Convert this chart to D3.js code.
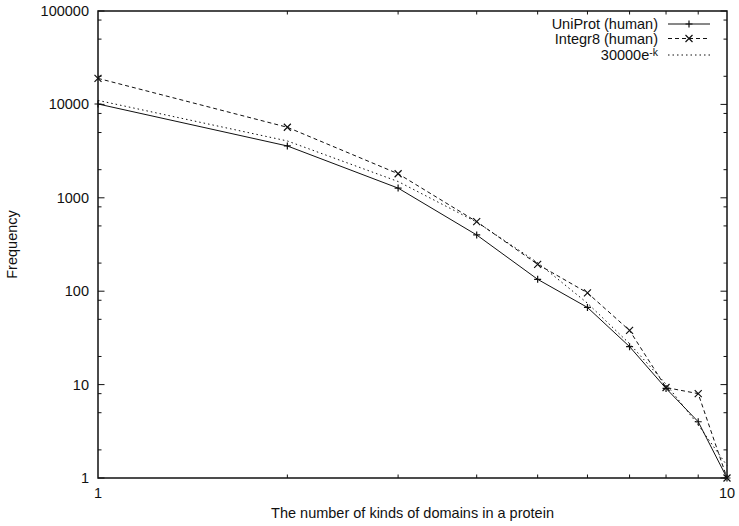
<!DOCTYPE html>
<html>
<head>
<meta charset="utf-8">
<script src="https://cdn.jsdelivr.net/npm/d3@7"></script>
<style>
  body { margin: 0; background: #fff; }
  svg text { font-family: "Liberation Sans", Arial, sans-serif; font-size: 14.5px; fill: #111; }
</style>
</head>
<body>
<div id="chart"></div>
<script>
// number of kinds of domains per protein (k)
const kinds = [1, 2, 3, 4, 5, 6, 7, 8, 9, 10];
// frequencies
const uniprotHuman = [10100, 3590, 1270, 400, 134, 67, 25.5, 9.1, 4, 1];
const integr8Human = [19000, 5690, 1810, 555, 194, 96, 38, 9.3, 8, 1];
const fitValues = [11036, 4060, 1494, 550, 202, 74.4, 27.4, 10.1, 3.7, 1.36];

const yTickValues = [1, 10, 100, 1000, 10000, 100000];
const xTickValues = [1, 10];

const width = 739, height = 526;
const margin = {top: 11, right: 12, bottom: 48, left: 98};
const w = width - margin.left - margin.right;
const h = height - margin.top - margin.bottom;

const svg = d3.select('#chart').append('svg')
    .attr('width', width)
    .attr('height', height);

const g = svg.append('g')
    .attr('transform', 'translate(' + margin.left + ',' + margin.top + ')');

const x = d3.scaleLog().domain([1, 10]).range([0, w]);
const y = d3.scaleLog().domain([1, 100000]).range([h, 0]);

// minor ticks: 2,5,8 per decade on y, 2..9 on x
const yMinor = [];
for (let d = 1; d < 100000; d *= 10) {
    [2, 5, 8].forEach(m => yMinor.push(d * m));
}
const xMinor = [2, 3, 4, 5, 6, 7, 8, 9];

const tickGroup = g.append('g').attr('stroke', '#111').attr('stroke-width', 1);
const major = 6.5, minor = 3.5;

yTickValues.forEach(v => {
    tickGroup.append('line').attr('x1', 0).attr('x2', major).attr('y1', y(v)).attr('y2', y(v));
    tickGroup.append('line').attr('x1', w).attr('x2', w - major).attr('y1', y(v)).attr('y2', y(v));
});
yMinor.forEach(v => {
    tickGroup.append('line').attr('x1', 0).attr('x2', minor).attr('y1', y(v)).attr('y2', y(v));
    tickGroup.append('line').attr('x1', w).attr('x2', w - minor).attr('y1', y(v)).attr('y2', y(v));
});
xMinor.forEach(v => {
    tickGroup.append('line').attr('x1', x(v)).attr('x2', x(v)).attr('y1', h).attr('y2', h - minor);
    tickGroup.append('line').attr('x1', x(v)).attr('x2', x(v)).attr('y1', 0).attr('y2', minor);
});

// tick labels
g.append('g').selectAll('text')
    .data(yTickValues)
    .join('text')
    .attr('x', -9)
    .attr('y', d => y(d))
    .attr('dy', '0.35em')
    .attr('text-anchor', 'end')
    .text(d => d);

g.append('g').selectAll('text')
    .data(xTickValues)
    .join('text')
    .attr('x', d => x(d))
    .attr('y', h + 20)
    .attr('text-anchor', 'middle')
    .text(d => d);

// frame
g.append('rect')
    .attr('width', w)
    .attr('height', h)
    .attr('fill', 'none')
    .attr('stroke', '#111')
    .attr('stroke-width', 1.5);

// axis titles
svg.append('text')
    .attr('x', margin.left + w / 2)
    .attr('y', 518)
    .attr('text-anchor', 'middle')
    .text('The number of kinds of domains in a protein');

svg.append('text')
    .attr('transform', 'translate(17,' + (margin.top + h / 2) + ') rotate(-90)')
    .attr('text-anchor', 'middle')
    .text('Frequency');

const line = d3.line()
    .x(d => x(d[0]))
    .y(d => y(d[1]));

const series = [
    {name: 'UniProt (human)', values: uniprotHuman, dash: null, marker: 'plus'},
    {name: 'Integr8 (human)', values: integr8Human, dash: '4,3', marker: 'cross'},
    {name: '30000e', values: fitValues, dash: '1.5,3', marker: null}
];

const plot = g.append('g');

function drawMarker(sel, type, cx, cy) {
    const s = 3.5;
    if (type === 'plus') {
        sel.append('path')
            .attr('d', `M${cx - s},${cy}H${cx + s}M${cx},${cy - s}V${cy + s}`)
            .attr('stroke', '#111').attr('stroke-width', 1.2);
    } else if (type === 'cross') {
        sel.append('path')
            .attr('d', `M${cx - s},${cy - s}L${cx + s},${cy + s}M${cx - s},${cy + s}L${cx + s},${cy - s}`)
            .attr('stroke', '#111').attr('stroke-width', 1.2);
    }
}

series.forEach(s => {
    const pts = kinds.map((k, i) => [k, s.values[i]]);
    plot.append('path')
        .datum(pts)
        .attr('d', line)
        .attr('fill', 'none')
        .attr('stroke', '#111')
        .attr('stroke-width', 1)
        .attr('stroke-dasharray', s.dash);
    if (s.marker) {
        pts.forEach(p => drawMarker(plot, s.marker, x(p[0]), y(p[1])));
    }
});

// legend
const legend = svg.append('g');
const legendRows = [24, 38.5, 55];
series.forEach((s, i) => {
    const ly = legendRows[i];
    const t = legend.append('text')
        .attr('x', 658)
        .attr('y', ly)
        .attr('dy', '0.35em')
        .attr('text-anchor', 'end');
    t.append('tspan').text(s.name);
    if (!s.marker) {
        t.append('tspan').attr('dy', '-0.4em').attr('font-size', '10.5px').text('-k');
    }
    legend.append('line')
        .attr('x1', 668).attr('x2', 710)
        .attr('y1', ly).attr('y2', ly)
        .attr('stroke', '#111')
        .attr('stroke-width', 1)
        .attr('stroke-dasharray', s.dash);
    if (s.marker) drawMarker(legend, s.marker, 689, ly);
});
</script>
</body>
</html>
